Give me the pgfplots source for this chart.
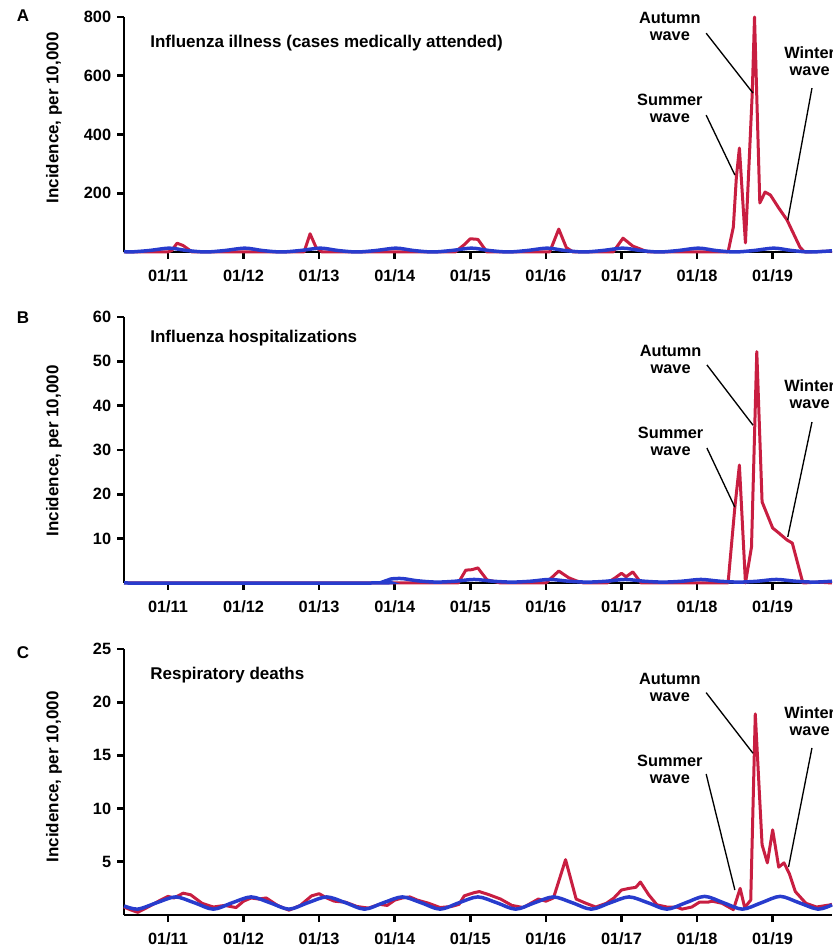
\documentclass[border=0pt]{standalone}
\usepackage{fontspec}
\setmainfont{Liberation Sans}
\usepackage{pgfplots}
\pgfplotsset{compat=1.18}
\definecolor{fluRed}{RGB}{200,30,65}
\definecolor{fluBlue}{RGB}{40,60,205}
\newcommand{\tf}{\fontsize{9.8}{10.2}\selectfont\bfseries}
\newcommand{\lf}{\fontsize{10.2}{11}\selectfont\bfseries}
\newcommand{\af}{\fontsize{9.8}{10.2}\selectfont\bfseries}
\tikzset{
  anno/.style={align=center, font=\af},
  lead/.style={black, line width=0.8pt},
}
\pgfplotsset{
  myax/.style={
    scale only axis, width=424.8pt,
    xmin=1910.418, xmax=1919.785, ymin=0,
    axis x line*=bottom, axis y line*=left,
    axis line style={line width=1.6pt, black, -},
    every tick/.style={line width=1.6pt, black},
    major tick length=4.2pt, tick align=outside,
    xtick={1911,...,1919},
    xticklabels={01/11,01/12,01/13,01/14,01/15,01/16,01/17,01/18,01/19},
    tick label style={font=\tf},
    xticklabel style={yshift=-3pt},
    /pgf/number format/assume math mode=true,
    clip=false,
  },
  redl/.style={fluRed, line width=1.8pt, line join=round},
  bluel/.style={fluBlue, line width=2.1pt, smooth},
}
\begin{document}
\begin{tikzpicture}[x=0.6pt,y=0.6pt]
% ---------- Panel A ----------
\begin{axis}[myax, at={(74.4pt,417pt)}, anchor=south west, height=141pt,
  ymax=800, ytick={200,400,600,800}]
\addplot[redl] coordinates {
(1910.418,0) (1911.0,0) (1911.05,5) (1911.12,30) (1911.2,22) (1911.32,0)
(1912.8,0) (1912.88,62) (1912.96,15) (1913.04,0)
(1914.8,0) (1914.92,25) (1915.0,45) (1915.1,43) (1915.22,0)
(1916.05,0) (1916.17,78) (1916.27,15) (1916.36,0)
(1916.89,0) (1917.02,47) (1917.15,20) (1917.28,7) (1917.35,0)
(1918.41,0) (1918.48,85) (1918.52,255) (1918.56,354) (1918.64,31) (1918.73,541)
(1918.76,800) (1918.83,167) (1918.9,204) (1918.97,194) (1919.08,150) (1919.19,109)
(1919.36,17) (1919.42,0) (1919.785,3)};
\addplot[bluel] coordinates {
(1910.418,2) (1910.5,0) (1910.75,5) (1911.02,13) (1911.25,5) (1911.5,0) (1911.75,5)
(1912.02,13) (1912.25,5) (1912.5,0) (1912.75,5) (1913.02,13) (1913.25,5) (1913.5,0)
(1913.75,5) (1914.02,13) (1914.25,5) (1914.5,0) (1914.75,5) (1915.02,13) (1915.25,5)
(1915.5,0) (1915.75,5) (1916.02,13) (1916.25,5) (1916.5,0) (1916.75,5) (1917.02,13)
(1917.25,5) (1917.5,0) (1917.75,5) (1918.02,13) (1918.25,5) (1918.5,0) (1918.75,5)
(1919.02,13) (1919.25,5) (1919.5,0) (1919.785,4)};
\node[anno] at (axis cs:1917.64,768) {Autumn\\wave};
\draw[lead] (axis cs:1918.12,745) -- (axis cs:1918.74,541);
\node[anno] at (axis cs:1917.64,489) {Summer\\wave};
\draw[lead] (axis cs:1918.12,466) -- (axis cs:1918.50,262);
\node[anno] at (axis cs:1919.49,649) {Winter\\wave};
\draw[lead] (axis cs:1919.52,558) -- (axis cs:1919.20,109);
\end{axis}
% ---------- Panel B ----------
\begin{axis}[myax, at={(74.4pt,218.4pt)}, anchor=south west, height=159.6pt,
  ymax=60, ytick={10,20,30,40,50,60}]
\addplot[redl] coordinates {
(1910.418,0) (1914.84,0) (1914.94,2.9) (1915.02,3.0) (1915.1,3.4) (1915.22,0.7)
(1915.3,0.4) (1915.4,0) (1916.0,0) (1916.17,2.7) (1916.3,1.2) (1916.4,0.5) (1916.5,0)
(1916.81,0) (1916.92,1.2) (1917.0,2.2) (1917.06,1.4) (1917.15,2.5) (1917.26,0)
(1918.41,0) (1918.5,17.1) (1918.56,26.6) (1918.64,0) (1918.72,8.1) (1918.79,52.2)
(1918.86,18.3) (1919.0,12.4) (1919.08,11.3) (1919.19,9.7) (1919.26,9) (1919.4,0)
(1919.6,0.2) (1919.785,0)};
\addplot[bluel] coordinates {
(1910.418,0) (1913.7,0) (1913.85,0.3) (1913.95,0.9) (1914.1,1.0) (1914.3,0.5) (1914.55,0.2)
(1914.8,0.4) (1915.05,0.8) (1915.3,0.4) (1915.55,0.2) (1915.8,0.4) (1916.05,0.8)
(1916.3,0.4) (1916.55,0.2) (1916.8,0.4) (1917.05,0.8) (1917.3,0.4) (1917.55,0.2)
(1917.8,0.4) (1918.05,0.8) (1918.3,0.4) (1918.55,0.2) (1918.8,0.4) (1919.05,0.8)
(1919.3,0.4) (1919.55,0.2) (1919.785,0.4)};
\node[anno] at (axis cs:1917.65,50.5) {Autumn\\wave};
\draw[lead] (axis cs:1918.13,49.2) -- (axis cs:1918.74,35.6);
\node[anno] at (axis cs:1917.65,31.9) {Summer\\wave};
\draw[lead] (axis cs:1918.13,30.45) -- (axis cs:1918.50,17.1);
\node[anno] at (axis cs:1919.49,42.5) {Winter\\wave};
\draw[lead] (axis cs:1919.52,36.3) -- (axis cs:1919.20,10.4);
\end{axis}
% ---------- Panel C ----------
\begin{axis}[myax, at={(74.4pt,19.2pt)}, anchor=south west, height=159.6pt,
  ymax=25, ytick={5,10,15,20,25}]
\addplot[redl] coordinates {
(1910.418,0.75) (1910.5,0.5) (1910.6,0.25) (1910.75,0.8) (1910.9,1.4) (1911.0,1.75)
(1911.08,1.6) (1911.2,2.05) (1911.3,1.9) (1911.45,1.1) (1911.6,0.75) (1911.75,0.9)
(1911.9,0.7) (1912.0,1.3) (1912.1,1.6) (1912.2,1.5) (1912.3,1.6) (1912.45,0.9)
(1912.6,0.45) (1912.75,0.9) (1912.9,1.8) (1913.0,2.0) (1913.1,1.6) (1913.2,1.3)
(1913.35,1.2) (1913.5,0.8) (1913.65,0.65) (1913.8,1.0) (1913.9,0.9) (1914.0,1.4)
(1914.1,1.6) (1914.2,1.7) (1914.3,1.4) (1914.45,1.1) (1914.6,0.7) (1914.75,0.8)
(1914.85,1.0) (1914.92,1.8) (1915.05,2.1) (1915.12,2.2) (1915.25,1.9) (1915.4,1.5)
(1915.55,0.9) (1915.7,0.7) (1915.8,1.1) (1915.9,1.5) (1916.0,1.3) (1916.1,1.6)
(1916.26,5.2) (1916.4,1.5) (1916.53,1.1) (1916.66,0.75) (1916.8,1.1) (1916.9,1.6)
(1917.0,2.35) (1917.1,2.5) (1917.19,2.6) (1917.25,3.1) (1917.36,1.9) (1917.47,0.95)
(1917.6,0.75) (1917.73,0.75) (1917.8,0.55) (1917.93,0.75) (1918.03,1.2) (1918.14,1.2)
(1918.2,1.3) (1918.33,1.1) (1918.48,0.5) (1918.57,2.5) (1918.63,0.7) (1918.71,1.4)
(1918.77,18.9) (1918.86,6.6) (1918.93,4.9) (1919.0,8.0) (1919.08,4.5) (1919.15,4.9)
(1919.22,3.9) (1919.3,2.2) (1919.44,1.1) (1919.58,0.75) (1919.75,0.94) (1919.785,1.0)};
\addplot[bluel] coordinates {
(1910.418,0.85) (1910.6,0.55) (1910.85,1.15) (1911.1,1.7) (1911.35,1.15) (1911.6,0.55)
(1911.85,1.15) (1912.1,1.7) (1912.35,1.15) (1912.6,0.55) (1912.85,1.15) (1913.1,1.7)
(1913.35,1.15) (1913.6,0.55) (1913.85,1.15) (1914.1,1.7) (1914.35,1.15) (1914.6,0.55)
(1914.85,1.15) (1915.1,1.7) (1915.35,1.15) (1915.6,0.55) (1915.85,1.15) (1916.1,1.7)
(1916.35,1.15) (1916.6,0.55) (1916.85,1.15) (1917.1,1.7) (1917.35,1.15) (1917.6,0.55)
(1917.85,1.15) (1918.1,1.75) (1918.35,1.15) (1918.6,0.55) (1918.85,1.15) (1919.1,1.75)
(1919.35,1.15) (1919.6,0.55) (1919.785,0.95)};
\node[anno] at (axis cs:1917.64,21.4) {Autumn\\wave};
\draw[lead] (axis cs:1918.12,20.9) -- (axis cs:1918.74,15.2);
\node[anno] at (axis cs:1917.64,13.7) {Summer\\wave};
\draw[lead] (axis cs:1918.12,13.25) -- (axis cs:1918.50,2.35);
\node[anno] at (axis cs:1919.49,18.2) {Winter\\wave};
\draw[lead] (axis cs:1919.52,15.7) -- (axis cs:1919.21,4.5);
\end{axis}
% ---------- texts outside axes ----------
\node[font=\lf] at (23,931) {A};
\node[font=\lf] at (23,629) {B};
\node[font=\lf] at (23,294) {C};
\node[rotate=90, font=\lf] at (54,829) {Incidence, per 10,000};
\node[rotate=90, font=\lf] at (54,496) {Incidence, per 10,000};
\node[rotate=90, font=\lf] at (54,170) {Incidence, per 10,000};
\node[anchor=west, inner sep=0pt, font=\lf] at (150,904) {Influenza illness (cases medically attended)};
\node[anchor=west, inner sep=0pt, font=\lf] at (150,609) {Influenza hospitalizations};
\node[anchor=west, inner sep=0pt, font=\lf] at (150,272) {Respiratory deaths};
\pgfresetboundingbox
\useasboundingbox (0,0) rectangle (832,947);
\end{tikzpicture}
\end{document}
